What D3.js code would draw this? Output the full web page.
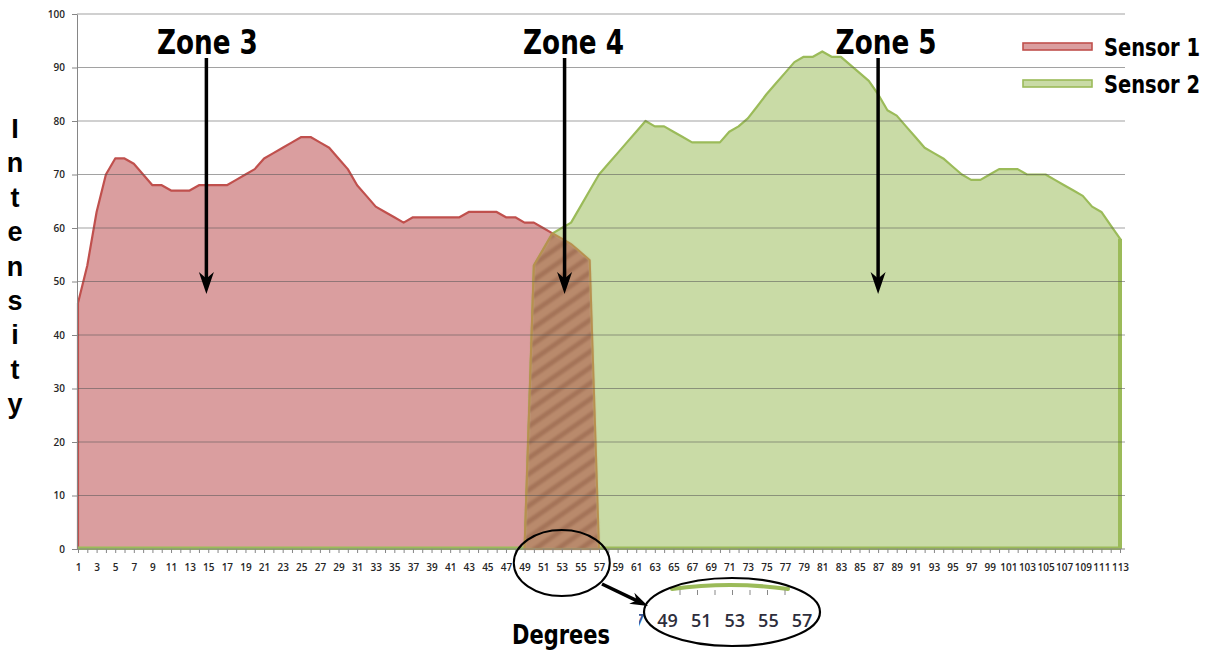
<!DOCTYPE html>
<html>
<head>
<meta charset="utf-8">
<script src="https://cdn.jsdelivr.net/npm/d3@7"></script>
<style>
  body { margin: 0; background: #fff; }
  .x-axis text, .y-axis text { font-family: 'Open Sans', sans-serif; font-weight: 600; fill: #262626; }
  .heavy { font-family: 'Liberation Sans Narrow', 'DejaVu Sans Condensed', sans-serif; font-weight: bold; fill: #000; }
</style>
</head>
<body>
<div id="chart"></div>
<script>
// categories (degrees) and the two sensor series
const degrees = d3.range(1, 114)
const sensor1 = [
  46, 53, 63, 70, 73, 73, 72, 70, 68, 68,
  67, 67, 67, 68, 68, 68, 68, 69, 70, 71,
  73, 74, 75, 76, 77, 77, 76, 75, 73, 71,
  68, 66, 64, 63, 62, 61, 62, 62, 62, 62,
  62, 62, 63, 63, 63, 63, 62, 62, 61, 61,
  60, 59, 58, 57, 55.5, 54, 0
]
const sensor2 = [
  0, 0, 0, 0, 0, 0, 0, 0, 0, 0,
  0, 0, 0, 0, 0, 0, 0, 0, 0, 0,
  0, 0, 0, 0, 0, 0, 0, 0, 0, 0,
  0, 0, 0, 0, 0, 0, 0, 0, 0, 0,
  0, 0, 0, 0, 0, 0, 0, 0, 0, 53,
  56, 59, 60, 61, 64, 67, 70, 72, 74, 76,
  78, 80, 79, 79, 78, 77, 76, 76, 76, 76,
  78, 79, 80.5, 82.7, 85, 87, 89, 91, 92, 92,
  93, 92, 92, 90.5, 89, 87.5, 85, 82, 81, 79,
  77, 75, 74, 73, 71.5, 70, 69, 69, 70, 71,
  71, 71, 70, 70, 70, 69, 68, 67, 66, 64,
  63, 60.5, 58
]
const seriesNames = ['Sensor 1', 'Sensor 2']
const yTicks = [0, 10, 20, 30, 40, 50, 60, 70, 80, 90, 100]
const zone4 = [49, 57]
const zoneLabels = ['Zone 3', 'Zone 4', 'Zone 5']
const zoneDegrees = [14.8, 53.3, 87]
const insetLabels = [47, 49, 51, 53, 55, 57]

const width = 1215
const height = 650
const plot = { left: 77, right: 1125, top: 14, bottom: 549 }
const zoneLabelShift = [1, 9, 8]
const colors = {
  s1Fill: '#da9e9f', s1Line: '#c0504d',
  s2Fill: '#c9dba6', s2Line: '#9bbb59',
  hatch: '#b98a6c', hatchDark: '#9d6a52', hatchLine: '#b8904f'
}

const svg = d3.select('#chart').append('svg')
  .attr('width', width)
  .attr('height', height)

const x = d3.scalePoint().domain(degrees).range([78, 1120])
const xc = d3.scaleLinear().domain([1, 113]).range([78, 1120]) // for positions between categories
const y = d3.scaleLinear().domain([0, 100]).range([plot.bottom, plot.top])

// hatch pattern for the overlap
const defs = svg.append('defs')
const pat = defs.append('pattern')
  .attr('id', 'hatch')
  .attr('patternUnits', 'userSpaceOnUse')
  .attr('width', 13).attr('height', 13)
  .attr('patternTransform', 'rotate(-35)')
pat.append('rect').attr('width', 13).attr('height', 13).attr('fill', colors.hatch)
pat.append('rect').attr('y', 0).attr('width', 13).attr('height', 5)
  .attr('fill', colors.hatchDark).attr('opacity', 0.75)
defs.append('filter').attr('id', 'soft')
  .append('feGaussianBlur').attr('stdDeviation', 1.2)

const area = d3.area()
  .x(d => x(d.k))
  .y0(y(0))
  .y1(d => y(d.v))

const s1 = sensor1.map((v, i) => ({ k: degrees[i], v }))
const s2 = sensor2.map((v, i) => ({ k: degrees[i], v }))
const overlap = degrees
  .filter(d => d >= zone4[0] && d <= zone4[1])
  .map(d => ({ k: d, v: Math.min(sensor1[d - 1], sensor2[d - 1]) }))

svg.append('path').datum(s1)
  .attr('d', area)
  .attr('fill', colors.s1Fill)
  .attr('stroke', colors.s1Line)
  .attr('stroke-width', 2.2)
  .attr('stroke-linejoin', 'round')

svg.append('path').datum(s2)
  .attr('d', area)
  .attr('fill', colors.s2Fill)
  .attr('stroke', colors.s2Line)
  .attr('stroke-width', 2.2)
  .attr('stroke-linejoin', 'round')

// thicker border at the right-hand drop and along the base
svg.append('line')
  .attr('x1', x(113)).attr('x2', x(113))
  .attr('y1', y(sensor2[112])).attr('y2', y(0))
  .attr('stroke', colors.s2Line).attr('stroke-width', 4)
svg.append('line')
  .attr('x1', x(1)).attr('x2', x(113))
  .attr('y1', y(0) - 1).attr('y2', y(0) - 1)
  .attr('stroke', colors.s2Line).attr('stroke-width', 3)

svg.append('path').datum(overlap)
  .attr('d', area)
  .attr('fill', 'url(#hatch)')
  .attr('filter', 'url(#soft)')
svg.append('path').datum(overlap)
  .attr('d', area)
  .attr('fill', 'none')
  .attr('stroke', colors.hatchLine)
  .attr('stroke-width', 2)

// gridlines (show through the fills)
svg.append('g').classed('grid', true)
  .selectAll('line')
  .data(yTicks.filter(t => t > 0))
  .join('line')
  .attr('x1', plot.left).attr('x2', plot.right)
  .attr('y1', d => y(d)).attr('y2', d => y(d))
  .attr('stroke', '#555')
  .attr('stroke-opacity', 0.55)
  .attr('stroke-width', 1)

// axes
const yAxis = d3.axisLeft(y).tickValues(yTicks).tickSize(5).tickPadding(7).tickSizeOuter(0)
svg.append('g').classed('y-axis', true)
  .attr('transform', `translate(${plot.left},0)`)
  .call(yAxis)
  .call(g => g.selectAll('text').style('font-size', '10px'))
  .call(g => g.selectAll('line, path').attr('stroke', '#868686'))

const xAxis = d3.axisBottom(x)
  .tickSize(4)
  .tickPadding(11)
  .tickSizeOuter(0)
  .tickFormat(d => d % 2 ? d : '')
svg.append('g').classed('x-axis', true)
  .attr('transform', `translate(0,${plot.bottom})`)
  .call(xAxis)
  .call(g => g.selectAll('text').style('font-size', '10px'))
  .call(g => g.selectAll('line').attr('stroke', '#868686'))
  .call(g => g.select('.domain').attr('d', `M${plot.left},0H${plot.right}`).attr('stroke', '#868686'))

// zone labels and arrows
function arrow (g, x0, y0, x1, y1, w, len) {
  const ang = Math.atan2(y1 - y0, x1 - x0)
  const ux = Math.cos(ang)
  const uy = Math.sin(ang)
  g.append('line')
    .attr('x1', x0).attr('y1', y0)
    .attr('x2', x1 - ux * len * 0.6).attr('y2', y1 - uy * len * 0.6)
    .attr('stroke', '#000').attr('stroke-width', 3.5)
  const bx = x1 - ux * len
  const by = y1 - uy * len
  const nx = x1 - ux * len * 0.7
  const ny = y1 - uy * len * 0.7
  g.append('path')
    .attr('d', `M${x1},${y1}L${bx - uy * w / 2},${by + ux * w / 2}L${nx},${ny}L${bx + uy * w / 2},${by - ux * w / 2}Z`)
    .attr('fill', '#000')
}

const zoneG = svg.append('g').classed('zones', true)
zoneLabels.forEach((label, idx) => {
  const cx = xc(zoneDegrees[idx])
  zoneG.append('text')
    .classed('heavy', true)
    .attr('x', cx + zoneLabelShift[idx])
    .attr('y', 54)
    .attr('text-anchor', 'middle')
    .attr('textLength', 101)
    .attr('lengthAdjust', 'spacingAndGlyphs')
    .style('font-size', '34px')
    .text(label)
  arrow(zoneG, cx, 58, cx, 294, 15, 22)
})

// legend
const legend = svg.append('g').classed('legend', true)
seriesNames.forEach((name, idx) => {
  const ly = 47 + idx * 37
  legend.append('rect')
    .attr('x', 1023).attr('y', ly - 4)
    .attr('width', 69).attr('height', 7)
    .attr('fill', idx ? colors.s2Fill : colors.s1Fill)
    .attr('stroke', idx ? colors.s2Line : colors.s1Line)
    .attr('stroke-width', 1.6)
  legend.append('text')
    .classed('heavy', true)
    .attr('x', 1104).attr('y', ly + 9)
    .attr('textLength', 96)
    .attr('lengthAdjust', 'spacingAndGlyphs')
    .style('font-size', '24px')
    .text(name)
})

// axis titles
svg.append('text')
  .classed('heavy', true)
  .attr('x', 561).attr('y', 644)
  .attr('text-anchor', 'middle')
  .attr('textLength', 98)
  .attr('lengthAdjust', 'spacingAndGlyphs')
  .style('font-size', '27px')
  .text('Degrees')

svg.append('g').classed('y-title', true)
  .selectAll('text')
  .data('Intensity'.split(''))
  .join('text')
  .attr('x', 15)
  .attr('y', (d, i) => 138 + i * 34.4)
  .attr('text-anchor', 'middle')
  .style('font-family', "'Liberation Sans', Arial, sans-serif")
  .style('font-weight', 'bold')
  .style('font-size', '27px')
  .text(d => d)

// callout: small ellipse round the zone-4 labels, arrow, magnified inset
const call = svg.append('g').classed('callout', true)
const ex = (x(zone4[0]) + x(zone4[1])) / 2
call.append('ellipse')
  .attr('cx', ex).attr('cy', 563).attr('rx', 48).attr('ry', 33)
  .attr('fill', 'none').attr('stroke', '#000').attr('stroke-width', 2)
arrow(call, 602, 584, 648, 606, 12, 18)

const inset = d3.scalePoint().domain(insetLabels).range([634, 802])
defs.append('clipPath').attr('id', 'insetClip')
  .append('rect').attr('x', 639).attr('y', 570).attr('width', 200).attr('height', 80)
const ig = call.append('g').attr('clip-path', 'url(#insetClip)')
ig.append('path')
  .attr('d', `M672,589Q730,581 788,589`)
  .attr('fill', 'none').attr('stroke', colors.s2Line).attr('stroke-width', 4)
  .attr('stroke-linecap', 'round')
ig.selectAll('.itick')
  .data(d3.range(680, 792, 17.5))
  .join('line')
  .classed('itick', true)
  .attr('x1', d => d).attr('x2', d => d)
  .attr('y1', 590).attr('y2', 595)
  .attr('stroke', '#888')
ig.selectAll('.ilabel')
  .data(insetLabels)
  .join('text')
  .classed('ilabel', true)
  .attr('x', d => inset(d))
  .attr('y', 627)
  .attr('text-anchor', 'middle')
  .style('font-family', "'Open Sans', sans-serif")
  .style('font-weight', 600)
  .style('font-size', '18px')
  .style('fill', (d, i) => i ? '#2e2e3c' : '#3a5a9a')
  .text(d => d)
call.append('ellipse')
  .attr('cx', 732).attr('cy', 612).attr('rx', 88).attr('ry', 34)
  .attr('fill', 'none').attr('stroke', '#000').attr('stroke-width', 2.2)
</script>
</body>
</html>
